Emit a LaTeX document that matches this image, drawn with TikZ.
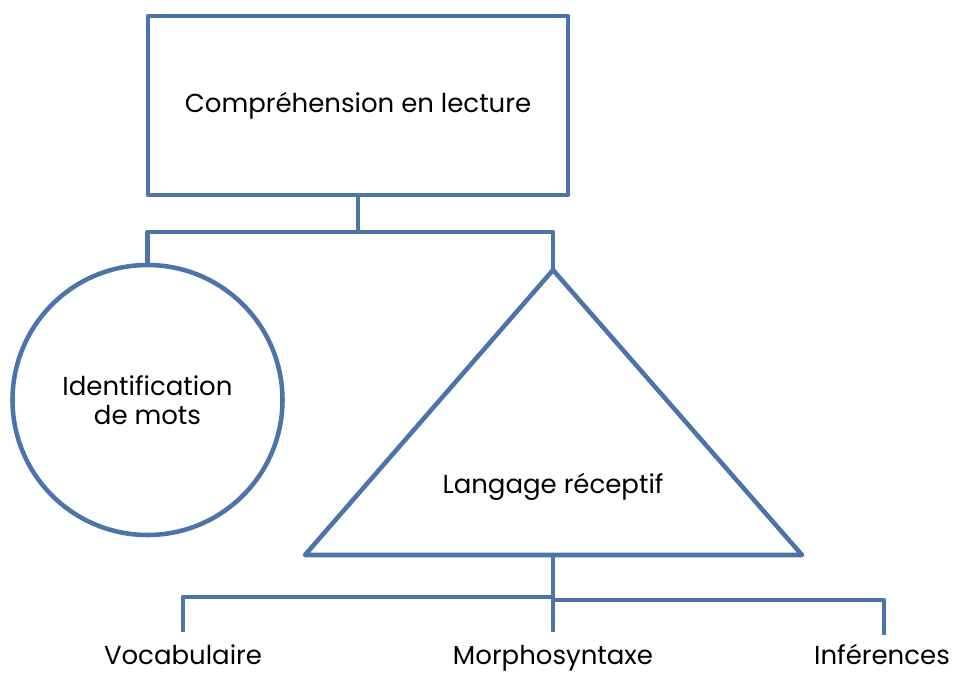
\documentclass[tikz,border=0pt]{standalone}
\usepackage{fontspec}
\setmainfont{Poppins}
\definecolor{lineblue}{RGB}{74,116,170}
\begin{document}
\begin{tikzpicture}[x=0.75pt,y=-0.75pt,
  line join=round,
  shapeline/.style={draw=lineblue, line width=3.4pt},
  conn/.style={draw=lineblue, line width=3.4pt},
  lbl/.style={font=\fontsize{19.5}{22}\selectfont, text=black, align=center, inner sep=0pt}]
\useasboundingbox (0,0) rectangle (953,672);
% top rectangle
\node[shapeline, minimum width=315pt, minimum height=134.25pt, inner sep=0pt] (top) at (358,105.5) {};
\node[lbl] (toptext) at (358,106) {Compréhension en lecture};
% circle
\node[shapeline, circle, minimum size=202.5pt, inner sep=0pt] (circ) at (147.5,400) {};
\node[lbl] (circtext) at (147.5,400) {Identification\\de mots};
% triangle
\coordinate (apex) at (553,270);
\coordinate (bl) at (305,555);
\coordinate (br) at (802,555);
\draw[shapeline] (apex) -- (bl) -- (br) -- cycle;
\node[lbl] (tritext) at (553,487) {Langage réceptif};
% connectors top
\coordinate (j1) at (358,232);
\draw[conn] (top.south) -- (j1);
\draw[conn] (circ.north) |- (j1) -| (apex);
% bottom connectors
\coordinate (bm) at (553,555);
\coordinate (m) at (553,632);
\coordinate (v) at (183,632);
\coordinate (i) at (884,635);
\coordinate (jl) at (553,597);
\coordinate (jr) at (553,600);
\draw[conn] (bm) -- (m);
\draw[conn] (v) |- (jl);
\draw[conn] (i) |- (jr);
% labels
\node[lbl, anchor=base] (voc) at (183,664) {Vocabulaire};
\node[lbl, anchor=base] (mor) at (553,664) {Morphosyntaxe};
\node[lbl, anchor=base] (inf) at (882,664) {Inférences};
\end{tikzpicture}
\end{document}
